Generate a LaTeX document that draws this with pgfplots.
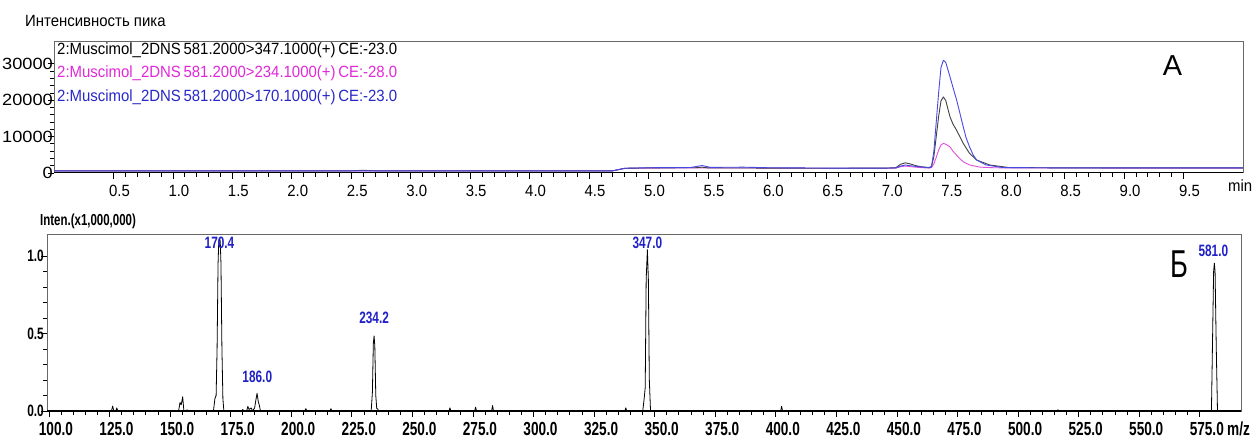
\documentclass[border=0pt]{standalone}
\usepackage{fontspec}
\setmainfont{Liberation Sans}
\newfontfamily\tf[FakeStretch=0.92]{Liberation Sans}
\newfontfamily\yf[FakeStretch=1.12]{Liberation Sans}
\newfontfamily\nf[FakeStretch=0.72]{Liberation Sans}
\usepackage{graphicx}
\usepackage{pgfplots}
\pgfplotsset{compat=1.18}
\definecolor{cblk}{HTML}{404040}
\definecolor{cmag}{HTML}{E050E0}
\definecolor{cblu}{HTML}{4848E4}
\definecolor{tmag}{HTML}{E028D8}
\definecolor{tblu}{HTML}{2828C8}
\definecolor{clab}{HTML}{2020C8}
\definecolor{cframe}{HTML}{686868}
\begin{document}
\begin{tikzpicture}
\path[use as bounding box] (0bp,0bp) rectangle (1257bp,437bp);
% ---------- top: chromatogram ----------
\begin{axis}[
  at={(54bp,264bp)}, anchor=south west, scale only axis,
  width=1189bp, height=131bp,
  xmin=0, xmax=10, ymin=0, ymax=36000,
  axis line style={draw=cframe, line width=1bp},
  tick align=outside, xtick pos=left, ytick pos=left,
  xtick={0.5,1,...,9.5}, minor x tick num=4,
  ytick={0,10000,20000,30000}, minor y tick num=4,
  major tick length=6bp, minor tick length=4bp,
  tick style={black, line width=0.8bp},
  scaled ticks=false, no markers,
  /pgf/number format/assume math mode=true,
  xticklabel style={font=\tf\fontsize{16.3}{18}\selectfont, inner sep=0pt, anchor=north, yshift=-6bp, xshift=6bp,
    /pgf/number format/.cd, fixed, fixed zerofill, precision=1},
  yticklabel style={font=\yf\fontsize{16.3}{18}\selectfont, inner sep=0pt, anchor=east, xshift=5bp,
    /pgf/number format/.cd, fixed, 1000 sep={}},
]
\addplot[cmag, line width=0.9bp, line join=round] coordinates {
(0,600)(2.5,600)(4.7,600)(4.8,1250)(5.0,1350)(5.5,1400)(6.0,1350)(6.5,1300)(7.0,1300)(7.08,1350)
(7.12,1700)(7.16,1900)(7.2,1750)(7.28,1500)(7.36,1350)(7.38,1500)(7.40,2500)(7.42,4300)(7.44,6300)
(7.46,7700)(7.48,8140)(7.50,7900)(7.536,7200)(7.56,6000)(7.59,4930)(7.62,3900)(7.647,3100)(7.70,2200)
(7.79,1600)(7.9,1450)(8.0,1400)(9.0,1350)(10,1350)};
\addplot[cblk, line width=0.9bp, line join=round] coordinates {
(0,600)(2.5,600)(2.6,750)(2.7,600)(4.7,600)(4.8,1300)(5.0,1400)(5.4,1450)(5.45,1600)(5.5,1400)
(6.0,1350)(6.5,1300)(7.0,1350)(7.08,1450)(7.12,2400)(7.16,2800)(7.2,2500)(7.25,2000)(7.3,1700)
(7.36,1500)(7.38,1800)(7.40,4500)(7.42,10000)(7.44,15500)(7.46,19800)(7.48,20900)(7.50,19900)
(7.536,15400)(7.56,13500)(7.59,11800)(7.62,9900)(7.647,8140)(7.70,5400)(7.76,3560)(7.87,2200)
(8.03,1500)(8.5,1400)(9.0,1400)(10,1400)};
\addplot[cblu, line width=0.9bp, line join=round] coordinates {
(0,600)(2.5,600)(4.7,600)(4.8,1300)(5.0,1450)(5.35,1500)(5.45,2050)(5.52,1550)(5.8,1600)(6.0,1450)
(6.5,1350)(7.0,1350)(7.08,1400)(7.12,1900)(7.16,2200)(7.2,2000)(7.28,1700)(7.36,1450)(7.38,1700)
(7.40,6000)(7.42,14000)(7.44,22000)(7.46,29000)(7.48,31000)(7.50,30400)(7.536,26400)(7.56,23600)
(7.592,20000)(7.62,16300)(7.647,12700)(7.67,9800)(7.70,7200)(7.73,5000)(7.76,3560)(7.84,2200)
(7.98,1500)(8.5,1400)(9.0,1400)(10,1400)};
\draw[black, line width=1.1bp] (rel axis cs:0,0) -- (rel axis cs:1,0);
\end{axis}
% ---------- bottom: mass spectrum ----------
\begin{axis}[
  at={(47bp,26bp)}, anchor=south west, scale only axis,
  width=1194bp, height=176bp,
  xmin=99.2, xmax=592, ymin=0, ymax=1.135,
  axis line style={draw=cframe, line width=1bp},
  tick align=outside, xtick pos=left, ytick pos=left,
  xtick={100,125,...,575}, minor x tick num=4,
  ytick={0,0.5,1}, minor y tick num=4,
  major tick length=6bp, minor tick length=4bp,
  tick style={black, line width=0.8bp},
  scaled ticks=false, no markers, clip mode=individual,
  /pgf/number format/assume math mode=true,
  xticklabel style={font=\nf\bfseries\fontsize{19}{20}\selectfont, inner sep=0pt, anchor=north, yshift=-5bp, xshift=7bp,
    /pgf/number format/.cd, fixed, fixed zerofill, precision=1},
  yticklabel style={font=\nf\bfseries\fontsize{16.5}{18}\selectfont, inner sep=0pt, anchor=east, xshift=3bp,
    /pgf/number format/.cd, fixed, fixed zerofill, precision=1},
]
\addplot[black, line width=0.8bp, line join=round] coordinates {
(99.2,0)(125.8,0)(126.3,0.032)(126.8,0)(127.6,0)(128.0,0.02)(128.4,0)
(153.5,0)(154.1,0.055)(154.6,0.04)(155.2,0.092)(155.7,0)(156.6,0)(157.0,0.008)(157.4,0)
(167.9,0)(168.5,0.08)(169.0,0.1)(169.4,0.4)(169.8,0.95)(170.1,1.095)(170.4,1.115)(170.7,1.095)(171.0,0.95)(171.4,0.4)(171.8,0.08)(172.2,0)
(179.6,0)(180.0,0.01)(180.4,0)
(181.6,0)(182.1,0.03)(182.6,0.01)(183.5,0.02)(184.0,0)(184.9,0.02)(185.4,0.07)(185.9,0.114)(186.4,0.06)(186.8,0.04)(187.3,0)
(200.7,0)(201.0,0.005)(201.3,0)
(205.5,0)(206.0,0.015)(206.5,0)
(216.0,0)(216.4,0.015)(216.8,0)
(230.0,0)(230.3,0.005)(230.6,0)
(233.0,0)(233.5,0.12)(233.9,0.44)(234.2,0.484)(234.5,0.42)(234.9,0.1)(235.3,0.015)(235.7,0.015)(236.0,0)
(265.1,0)(265.5,0.02)(265.9,0)
(275.7,0)(276.1,0.025)(276.5,0)
(282.7,0)(283.1,0.035)(283.5,0)
(337.7,0)(338.1,0.02)(338.5,0)
(345.1,0)(345.7,0.085)(346.1,0.15)(346.5,0.85)(347.0,1.04)(347.4,0.85)(347.8,0.2)(348.3,0)
(402.0,0)(402.4,0.03)(402.8,0)
(516.0,0)(516.4,0.008)(516.8,0)
(579.8,0)(580.3,0.5)(580.7,0.9)(581.0,0.953)(581.3,0.9)(581.8,0.4)(582.3,0)
(592,0)};
\draw[black, line width=1.1bp] (rel axis cs:0,0) -- (rel axis cs:1,0);
\begin{scope}[every node/.style={font=\nf\bfseries\fontsize{16.5}{18}\selectfont, text=clab, inner sep=0pt}]
\node at (axis cs:170.4,1.084) {170.4};
\node at (axis cs:186.0,0.219) {186.0};
\node at (axis cs:234.2,0.60) {234.2};
\node at (axis cs:347.0,1.084) {347.0};
\node at (axis cs:580.6,1.03) {581.0};
\end{scope}
\end{axis}
% ---------- texts ----------
\node[anchor=west, inner sep=0pt, font=\tf\fontsize{16.3}{18}\selectfont] at (25bp,416bp) {Интенсивность пика};
\node[anchor=base west, inner sep=0pt, font=\tf\fontsize{16.3}{18}\selectfont, text=black] at (57bp,382bp) {2:Muscimol\_2DNS\,581.2000>347.1000(+)\,CE:-23.0};
\node[anchor=base west, inner sep=0pt, font=\tf\fontsize{16.3}{18}\selectfont, text=tmag] at (57bp,359.5bp) {2:Muscimol\_2DNS\,581.2000>234.1000(+)\,CE:-28.0};
\node[anchor=base west, inner sep=0pt, font=\tf\fontsize{16.3}{18}\selectfont, text=tblu] at (57bp,335bp) {2:Muscimol\_2DNS\,581.2000>170.1000(+)\,CE:-23.0};
\node[anchor=base west, inner sep=0pt, font=\tf\fontsize{16.3}{18}\selectfont] at (1228bp,245bp) {min};
\node[anchor=center, inner sep=0pt, font=\fontsize{29}{30}\selectfont] at (1172.5bp,371.5bp) {А};
\node[anchor=center, inner sep=0pt, font=\fontsize{39}{40}\selectfont] at (1179.5bp,173bp) {\scalebox{0.7}[1]{Б}};
\node[anchor=west, inner sep=0pt, font=\nf\bfseries\fontsize{16}{18}\selectfont] at (40bp,216bp) {Inten.(x1,000,000)};
\node[anchor=base west, inner sep=0pt, font=\nf\bfseries\fontsize{19}{20}\selectfont] at (1227bp,1.5bp) {m/z};
\end{tikzpicture}
\end{document}
